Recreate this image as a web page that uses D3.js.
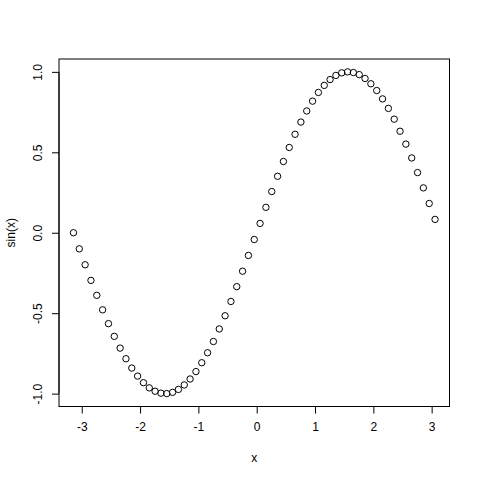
<!DOCTYPE html>
<html>
<head>
<meta charset="utf-8">
<script src="https://cdn.jsdelivr.net/npm/d3@7"></script>
<style>
  body { margin: 0; background: white; }
  svg { display: block; font-family: "Liberation Sans", Arial, sans-serif; }
</style>
</head>
<body>
<svg width="480" height="480"></svg>
<script>
// x values, from -pi in steps of 0.1
var xs = [-3.142, -3.042, -2.942, -2.842, -2.742, -2.642, -2.542, -2.442, -2.342, -2.242,
          -2.142, -2.042, -1.942, -1.842, -1.742, -1.642, -1.542, -1.442, -1.342, -1.242,
          -1.142, -1.042, -0.942, -0.842, -0.742, -0.642, -0.542, -0.442, -0.342, -0.242,
          -0.142, -0.042, 0.058, 0.158, 0.258, 0.358, 0.458, 0.558, 0.658, 0.758,
          0.858, 0.958, 1.058, 1.158, 1.258, 1.358, 1.458, 1.558, 1.658, 1.758,
          1.858, 1.958, 2.058, 2.158, 2.258, 2.358, 2.458, 2.558, 2.658, 2.758,
          2.858, 2.958, 3.058];

// sin(x)
var ys = [0.000, -0.100, -0.199, -0.296, -0.389, -0.479, -0.565, -0.644, -0.717, -0.783,
          -0.841, -0.891, -0.932, -0.964, -0.985, -0.997, -1.000, -0.992, -0.974, -0.946,
          -0.909, -0.863, -0.808, -0.746, -0.676, -0.598, -0.516, -0.427, -0.335, -0.239,
          -0.141, -0.042, 0.058, 0.158, 0.256, 0.351, 0.443, 0.530, 0.612, 0.688,
          0.757, 0.818, 0.872, 0.916, 0.952, 0.978, 0.994, 1.000, 0.996, 0.983,
          0.959, 0.926, 0.884, 0.832, 0.773, 0.706, 0.631, 0.551, 0.465, 0.374,
          0.279, 0.182, 0.083];

var xTicks = [-3, -2, -1, 0, 1, 2, 3];
var yTicks = [-1.0, -0.5, 0.0, 0.5, 1.0];

// plot region (R default margins at 480px)
var plotLeft = 59, plotRight = 449.5, plotTop = 59, plotBottom = 406.5;

var svg = d3.select("svg");

// R style 4% padding on the data range
var xe = d3.extent(xs), ye = d3.extent(ys);
var xp = (xe[1] - xe[0]) * 0.04, yp = (ye[1] - ye[0]) * 0.04;

var x = d3.scaleLinear().domain([xe[0] - xp, xe[1] + xp]).range([plotLeft, plotRight]),
    y = d3.scaleLinear().domain([ye[0] - yp, ye[1] + yp]).range([plotBottom, plotTop]);

// hyphen minus like R, not the unicode one
var fmtX = function(d) { return d3.format("d")(d).replace("\u2212", "-"); },
    fmtY = function(d) { return d3.format(".1f")(d).replace("\u2212", "-"); };

// box round the plot
svg.append("rect")
    .attr("x", plotLeft).attr("y", plotTop)
    .attr("width", plotRight - plotLeft).attr("height", plotBottom - plotTop)
    .attr("fill", "none").attr("stroke", "black").attr("stroke-width", 1);

// x axis
var gx = svg.append("g")
    .attr("transform", "translate(0," + plotBottom + ")")
    .call(d3.axisBottom(x).tickValues(xTicks).tickSize(7).tickPadding(9)
        .tickFormat(fmtX));
gx.select(".domain")
    .attr("d", "M" + x(xTicks[0]) + ",0H" + x(xTicks[xTicks.length - 1]));

// y axis
var gy = svg.append("g")
    .attr("transform", "translate(" + plotLeft + ",0)")
    .call(d3.axisLeft(y).tickValues(yTicks).tickSize(7)
        .tickFormat(fmtY));
gy.select(".domain")
    .attr("d", "M0," + y(yTicks[0]) + "V" + y(yTicks[yTicks.length - 1]));
gy.selectAll(".tick text")
    .attr("x", null).attr("dy", null)
    .attr("transform", "translate(-17,0) rotate(-90)")
    .style("text-anchor", "middle");

svg.selectAll(".tick text").style("font-size", "12px")
    .style("font-family", "Liberation Sans, Arial, sans-serif").attr("fill", "black");
svg.selectAll(".tick line, .domain").attr("stroke", "black");

// points
svg.append("g").selectAll("circle")
    .data(xs)
  .enter().append("circle")
    .attr("cx", function(d) { return x(d); })
    .attr("cy", function(d, i) { return y(ys[i]); })
    .attr("r", 3.2)
    .attr("fill", "none")
    .attr("stroke", "black")
    .attr("stroke-width", 1);

// axis titles
svg.append("text")
    .attr("x", (plotLeft + plotRight) / 2).attr("y", 462)
    .style("text-anchor", "middle").style("font-size", "12px")
    .text("x");

svg.append("text")
    .attr("transform", "translate(15," + ((plotTop + plotBottom) / 2) + ") rotate(-90)")
    .style("text-anchor", "middle").style("font-size", "12px")
    .text("sin(x)");
</script>
</body>
</html>
